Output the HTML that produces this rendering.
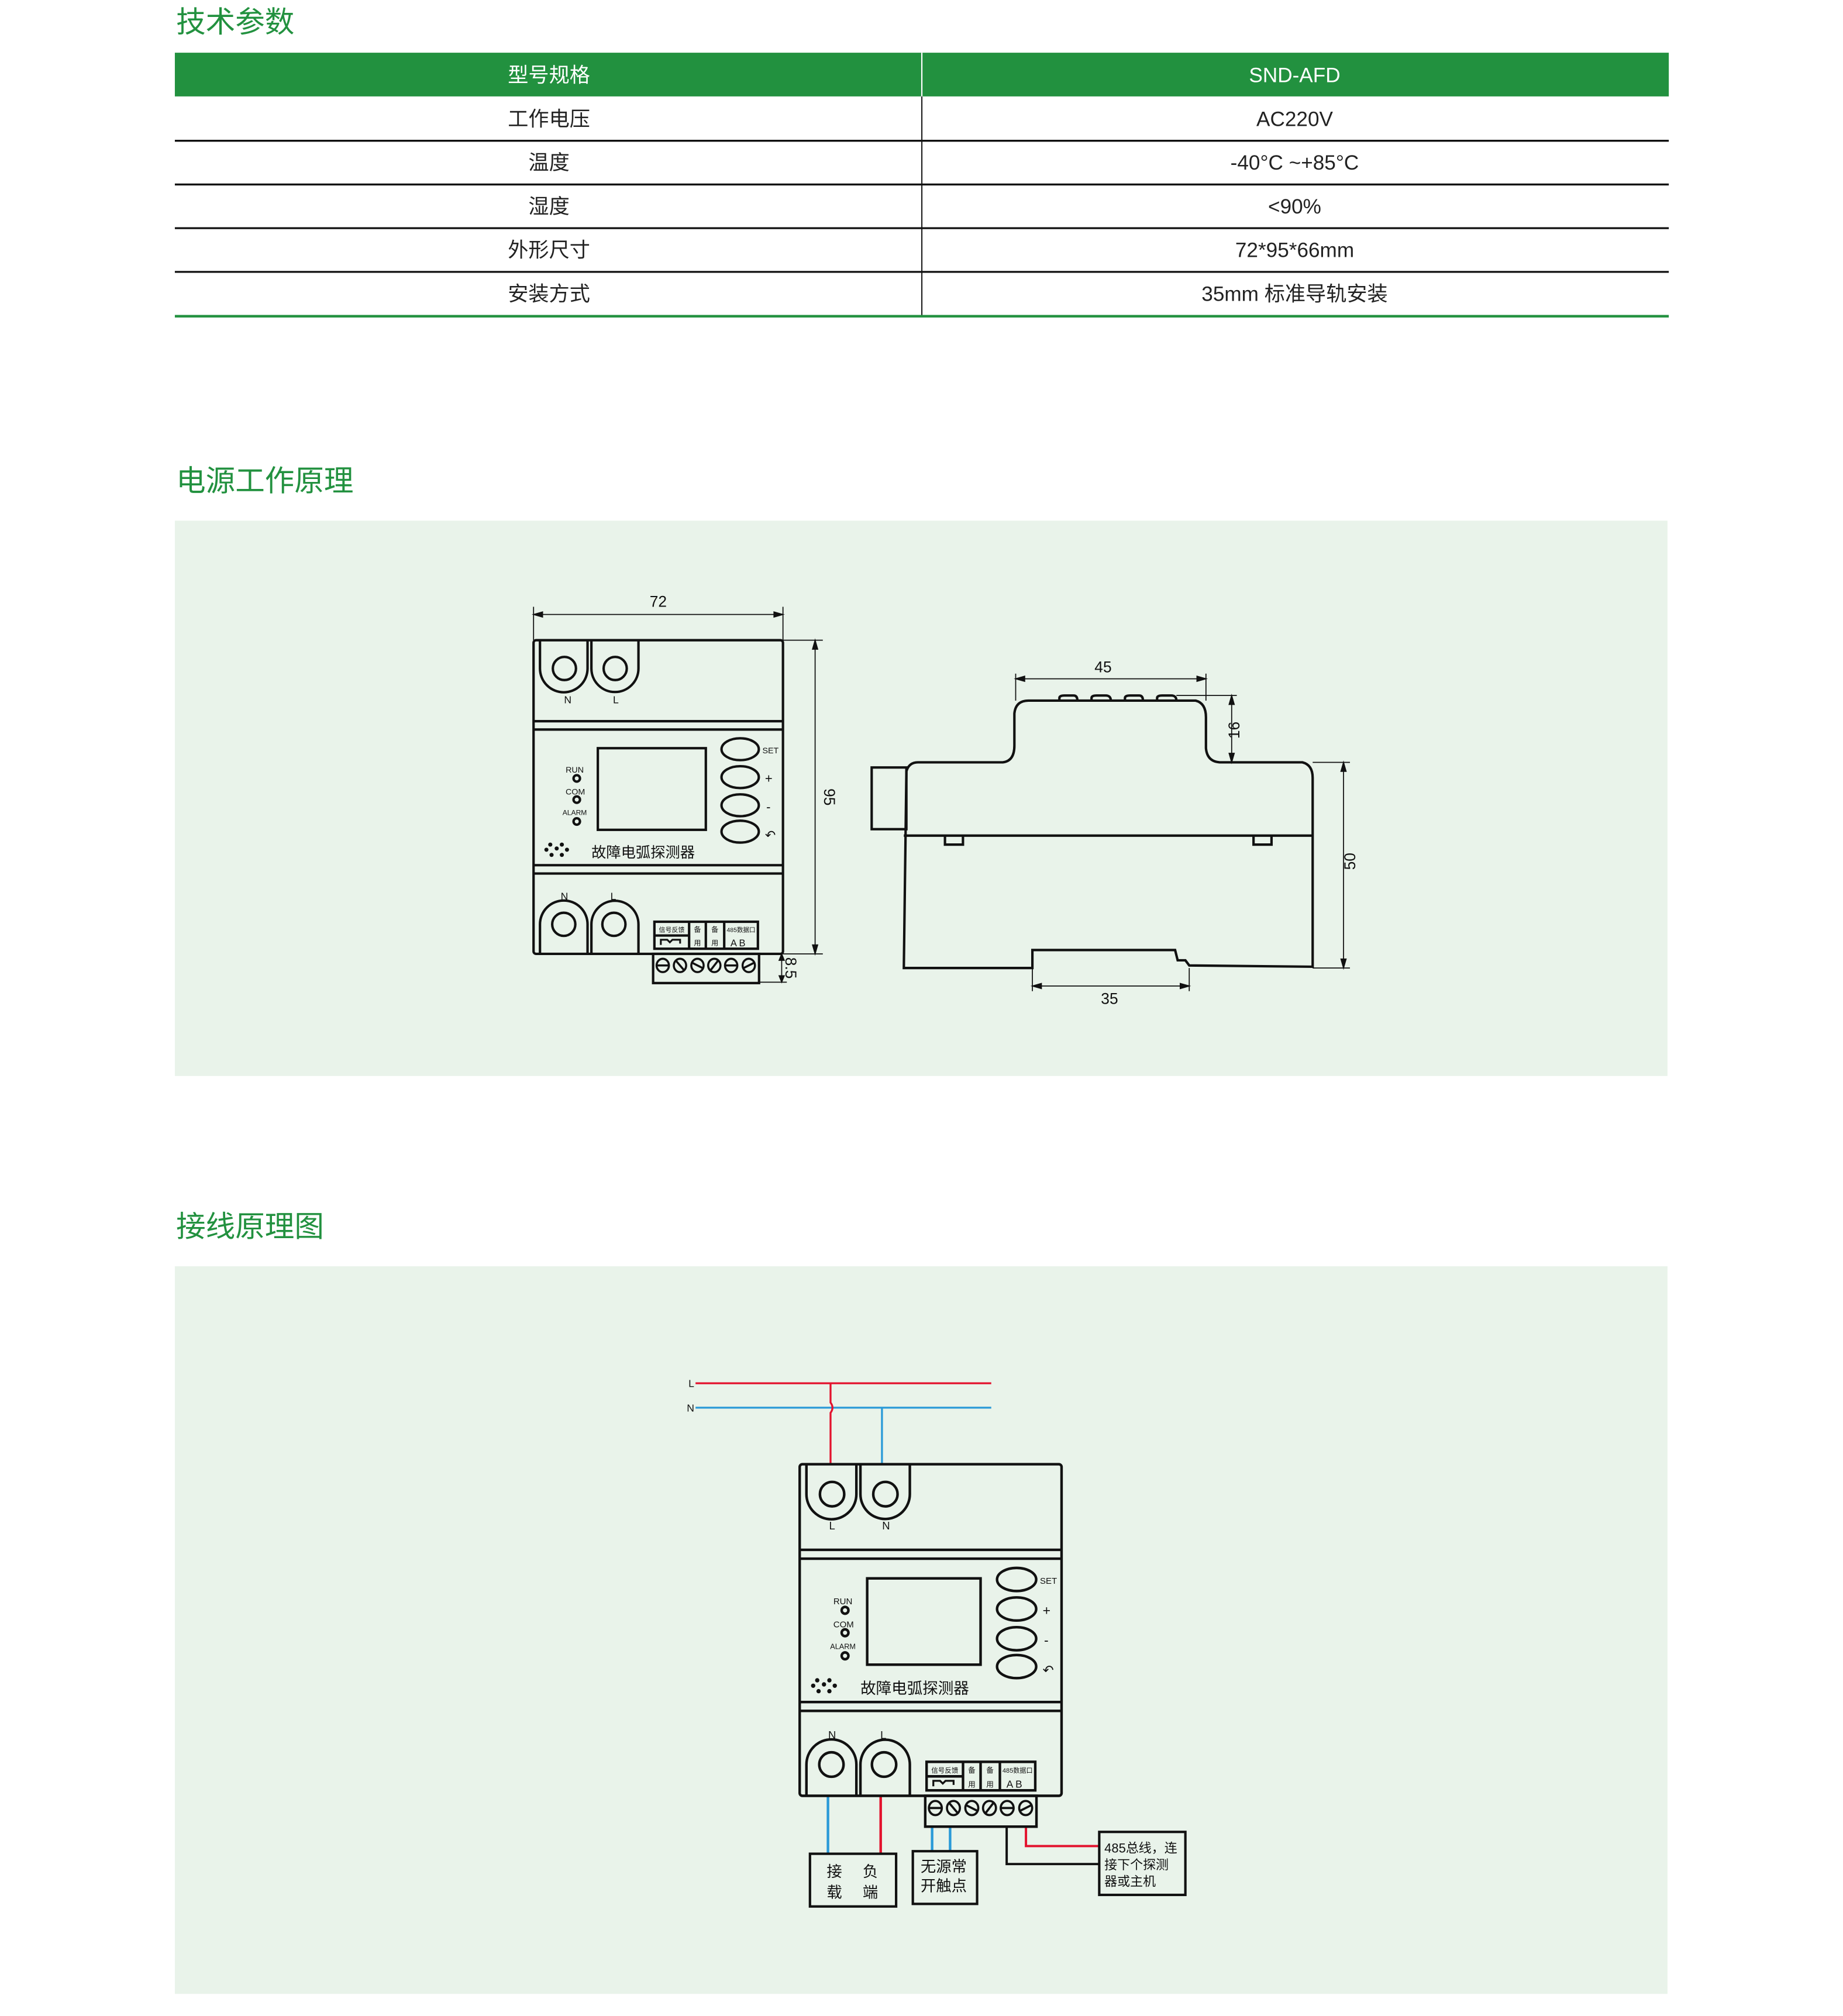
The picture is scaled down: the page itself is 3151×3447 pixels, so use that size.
<!DOCTYPE html>
<html><head><meta charset="utf-8"><style>
html,body{margin:0;padding:0;background:#fff}
svg{display:block}
text{font-family:"Liberation Sans","Noto Sans CJK SC",sans-serif}
</style></head><body>
<svg width="3151" height="3447" viewBox="0 0 1433.5 1568.2" preserveAspectRatio="none" xmlns="http://www.w3.org/2000/svg">
<rect width="1445" height="1581" fill="#fff"/>
<!-- Section 1 -->
<text x="137" y="25" font-size="23" fill="#22913f">技术参数</text>
<rect x="136" y="41" width="1162" height="34" fill="#22913f"/>
<line x1="717" y1="41" x2="717" y2="246" stroke="#fff" stroke-width="1"/>
<line x1="717" y1="75" x2="717" y2="246" stroke="#222" stroke-width="1"/>
<g stroke="#111" stroke-width="1.5">
<line x1="136" y1="109.5" x2="1298" y2="109.5"/>
<line x1="136" y1="143.5" x2="1298" y2="143.5"/>
<line x1="136" y1="177.5" x2="1298" y2="177.5"/>
<line x1="136" y1="211.5" x2="1298" y2="211.5"/>
</g>
<line x1="136" y1="246" x2="1298" y2="246" stroke="#22913f" stroke-width="2"/>
<g font-size="16" text-anchor="middle" fill="#222">
<text x="427" y="64" fill="#fff">型号规格</text><text x="1007" y="64" fill="#fff">SND-AFD</text>
<text x="427" y="98">工作电压</text><text x="1007" y="98">AC220V</text>
<text x="427" y="132">温度</text><text x="1007" y="132">-40°C ~+85°C</text>
<text x="427" y="166">湿度</text><text x="1007" y="166">&lt;90%</text>
<text x="427" y="200">外形尺寸</text><text x="1007" y="200">72*95*66mm</text>
<text x="427" y="234">安装方式</text><text x="1007" y="234">35mm 标准导轨安装</text>
</g>

<!-- Section 2 -->
<text x="137" y="382" font-size="23" fill="#22913f">电源工作原理</text>
<rect x="136" y="405" width="1161" height="432" fill="#e9f3ea"/>

<g transform="translate(415,498)" stroke="#111" fill="none" stroke-width="1.9">
<rect x="0" y="0" width="194" height="244" rx="2"/>
<line x1="0" y1="63" x2="194" y2="63"/><line x1="0" y1="69.5" x2="194" y2="69.5"/>
<line x1="0" y1="175" x2="194" y2="175"/><line x1="0" y1="181.5" x2="194" y2="181.5"/>
<path d="M5,0 V22 A18.5,18.5 0 0 0 42,22 V0"/><path d="M45,0 V22 A18.3,18.3 0 0 0 81.6,22 V0"/>
<circle cx="24" cy="22" r="9"/><circle cx="63.5" cy="22" r="9"/>
<rect x="50" y="84" width="84" height="63.5"/>
<circle cx="33.6" cy="107.5" r="2.5"/><circle cx="33.6" cy="124" r="2.5"/><circle cx="33.6" cy="141" r="2.5"/>
<ellipse cx="160.7" cy="84.8" rx="14.5" ry="8.5"/><ellipse cx="160.7" cy="106.5" rx="14.5" ry="8.5"/>
<ellipse cx="160.7" cy="128.4" rx="14.5" ry="8.5"/><ellipse cx="160.7" cy="148.9" rx="14.5" ry="8.5"/>
<path d="M5,244 V221 A18.5,18.5 0 0 1 42,221 V244"/><path d="M45,244 V221 A18.3,18.3 0 0 1 81.6,221 V244"/>
<circle cx="23.5" cy="221" r="9"/><circle cx="62.5" cy="221" r="9"/>
<rect x="94" y="219" width="80.5" height="21"/>
<line x1="121" y1="219" x2="121" y2="240"/><line x1="134" y1="219" x2="134" y2="240"/><line x1="148.3" y1="219" x2="148.3" y2="240"/>
<line x1="94" y1="229.7" x2="121" y2="229.7"/>
<path d="M99,237 V233 H104 L106,235 L108,233 H114 V236" stroke-width="1.4"/>
<rect x="93" y="244" width="82.4" height="22.7"/>
<g stroke-width="1.6"><ellipse cx="100.5" cy="253" rx="4.8" ry="5.2"/><ellipse cx="113.9" cy="253" rx="4.8" ry="5.2"/><ellipse cx="127.5" cy="253" rx="4.8" ry="5.2"/><ellipse cx="140.6" cy="253" rx="4.8" ry="5.2"/><ellipse cx="153.7" cy="253" rx="4.8" ry="5.2"/><ellipse cx="167.4" cy="253" rx="4.8" ry="5.2"/>
<line x1="96" y1="253" x2="105" y2="253"/><line x1="110.5" y1="249" x2="117.3" y2="257"/><line x1="123.5" y1="251" x2="131.5" y2="255"/><line x1="137.5" y1="257" x2="143.7" y2="249"/><line x1="149.2" y1="253" x2="158.2" y2="253"/><line x1="163.4" y1="255" x2="171.4" y2="251"/></g>
<g fill="#111" stroke="none"><circle cx="13" cy="159" r="1.6"/><circle cx="22" cy="159" r="1.6"/><circle cx="10" cy="163" r="1.6"/><circle cx="18" cy="162" r="1.6"/><circle cx="26" cy="163" r="1.6"/><circle cx="14" cy="167" r="1.6"/><circle cx="22" cy="167" r="1.6"/>
<text x="32" y="103" font-size="6.5" text-anchor="middle">RUN</text><text x="32.5" y="120" font-size="6.5" text-anchor="middle">COM</text><text x="32" y="136" font-size="5.5" text-anchor="middle">ALARM</text>
<text x="178" y="88" font-size="6.5">SET</text><text x="180" y="111" font-size="10">+</text><text x="181" y="133" font-size="10">-</text><text x="180" y="155" font-size="10">↶</text>
<text x="45" y="169" font-size="11.5">故障电弧探测器</text>
<text x="24" y="202" font-size="8" text-anchor="middle">N</text><text x="62" y="202" font-size="8" text-anchor="middle">L</text>
<text x="26.6" y="49" font-size="8" text-anchor="middle">N</text><text x="64" y="49" font-size="8" text-anchor="middle">L</text>
<text x="107.5" y="227" font-size="5" text-anchor="middle">信号反馈</text><text x="127.5" y="227" font-size="5.5" text-anchor="middle">备</text><text x="141" y="227" font-size="5.5" text-anchor="middle">备</text><text x="161.4" y="227" font-size="4.8" text-anchor="middle">485数据口</text>
<text x="127.5" y="237.5" font-size="5.5" text-anchor="middle">用</text><text x="141" y="237.5" font-size="5.5" text-anchor="middle">用</text><text x="159" y="238" font-size="7.5" text-anchor="middle">A B</text>
</g>
</g>
<!-- front dims -->
<g stroke="#111" stroke-width="0.8" fill="#111">
<line x1="415" y1="478" x2="609" y2="478"/><line x1="415" y1="472" x2="415" y2="498"/><line x1="609" y1="472" x2="609" y2="498"/>
<path d="M415,478 l7,-2 v4z M609,478 l-7,-2 v4z"/>
<line x1="634" y1="498" x2="634" y2="742"/><line x1="609" y1="498" x2="640" y2="498"/><line x1="609" y1="742" x2="640" y2="742"/>
<path d="M634,498 l-2,7 h4z M634,742 l-2,-7 h4z"/>
<line x1="608" y1="742" x2="608" y2="764"/><line x1="590" y1="764" x2="612" y2="764"/>
<path d="M608,742 l-2,5 h4z M608,764 l-2,-5 h4z"/>
</g>
<g font-size="12" fill="#111" text-anchor="middle">
<text x="512" y="472">72</text>
<text transform="translate(641,620) rotate(90)">95</text>
<text transform="translate(611,753) rotate(90)">8.5</text>
<text x="858" y="523">45</text>
<text transform="translate(964,568) rotate(-90)">16</text>
<text transform="translate(1054,670) rotate(-90)">50</text>
<text x="863" y="781">35</text>
</g>
<!-- side view -->
<g stroke="#111" stroke-width="1.9" fill="none">
<rect x="678" y="597" width="27" height="48"/>
<path d="M703,753 L705,600 Q707,593 714,593 L780,593 Q789,592 789,580 L789,555 Q790,545 800,545 L930,545 Q938,547 938,558 L938,582 Q939,593 950,593 L1013,593 Q1021,595 1021,605 L1021,752 L925,751 L922,747 L916,747 L914,739 L803,739 L803,753 Z"/>
<line x1="703" y1="650" x2="1021" y2="650"/>
<path d="M735,650 V657 H749 V650 M975,650 V657 H989 V650"/>
<path d="M824,545 V543 Q824,541 828,541 H835 Q838,541 838,545 M849,545 V543 Q849,541 853,541 H860 Q864,541 864,545 M875,545 V543 Q875,541 879,541 H886 Q889,541 889,545 M900,545 V543 Q900,541 904,541 H911 Q915,541 915,545"/>
</g>
<g stroke="#111" stroke-width="0.8" fill="#111">
<line x1="790" y1="528" x2="938" y2="528"/><line x1="790" y1="524" x2="790" y2="545"/><line x1="938" y1="524" x2="938" y2="545"/>
<path d="M790,528 l7,-2 v4z M938,528 l-7,-2 v4z"/>
<line x1="958" y1="541" x2="958" y2="593"/><line x1="915" y1="541" x2="962" y2="541"/>
<path d="M958,541 l-2,7 h4z M958,593 l-2,-7 h4z"/>
<line x1="1045" y1="593" x2="1045" y2="753"/><line x1="1021" y1="593" x2="1050" y2="593"/><line x1="1021" y1="753" x2="1050" y2="753"/>
<path d="M1045,593 l-2,7 h4z M1045,753 l-2,-7 h4z"/>
<line x1="803" y1="767" x2="925" y2="767"/><line x1="803" y1="753" x2="803" y2="771"/><line x1="925" y1="753" x2="925" y2="771"/>
<path d="M803,767 l7,-2 v4z M925,767 l-7,-2 v4z"/>
</g>

<!-- Section 3 -->
<text x="137" y="962" font-size="23" fill="#22913f">接线原理图</text>
<rect x="136" y="985" width="1161" height="566" fill="#e9f3ea"/>

<g stroke-width="1.5" fill="none">
<line x1="541" y1="1076" x2="771" y2="1076" stroke="#e3122d"/>
<line x1="541" y1="1095" x2="771" y2="1095" stroke="#2a9ad8"/>
<path d="M646,1076 V1091 Q649,1095 646,1099 V1139" stroke="#e3122d"/>
<line x1="686" y1="1095" x2="686" y2="1139" stroke="#2a9ad8"/>
<line x1="644" y1="1397" x2="644" y2="1442" stroke="#2a9ad8" stroke-width="2"/>
<line x1="685" y1="1397" x2="685" y2="1442" stroke="#e3122d" stroke-width="2"/>
<line x1="725" y1="1421" x2="725" y2="1440" stroke="#2a9ad8" stroke-width="2"/>
<line x1="739" y1="1421" x2="739" y2="1440" stroke="#2a9ad8" stroke-width="2"/>
<path d="M783,1421 V1450 H855" stroke="#111" stroke-width="1.8"/>
<path d="M798,1421 V1436 H855" stroke="#e3122d" stroke-width="1.8"/>
</g>
<text x="540" y="1079" font-size="8" text-anchor="end" fill="#111">L</text>
<text x="540" y="1098" font-size="8" text-anchor="end" fill="#111">N</text>

<g transform="translate(622,1139) scale(1.05,1.057)" stroke="#111" fill="none" stroke-width="1.9">
<rect x="0" y="0" width="194" height="244" rx="2"/>
<line x1="0" y1="63" x2="194" y2="63"/><line x1="0" y1="69.5" x2="194" y2="69.5"/>
<line x1="0" y1="175" x2="194" y2="175"/><line x1="0" y1="181.5" x2="194" y2="181.5"/>
<path d="M5,0 V22 A18.5,18.5 0 0 0 42,22 V0"/><path d="M45,0 V22 A18.3,18.3 0 0 0 81.6,22 V0"/>
<circle cx="24" cy="22" r="9"/><circle cx="63.5" cy="22" r="9"/>
<rect x="50" y="84" width="84" height="63.5"/>
<circle cx="33.6" cy="107.5" r="2.5"/><circle cx="33.6" cy="124" r="2.5"/><circle cx="33.6" cy="141" r="2.5"/>
<ellipse cx="160.7" cy="84.8" rx="14.5" ry="8.5"/><ellipse cx="160.7" cy="106.5" rx="14.5" ry="8.5"/>
<ellipse cx="160.7" cy="128.4" rx="14.5" ry="8.5"/><ellipse cx="160.7" cy="148.9" rx="14.5" ry="8.5"/>
<path d="M5,244 V221 A18.5,18.5 0 0 1 42,221 V244"/><path d="M45,244 V221 A18.3,18.3 0 0 1 81.6,221 V244"/>
<circle cx="23.5" cy="221" r="9"/><circle cx="62.5" cy="221" r="9"/>
<rect x="94" y="219" width="80.5" height="21"/>
<line x1="121" y1="219" x2="121" y2="240"/><line x1="134" y1="219" x2="134" y2="240"/><line x1="148.3" y1="219" x2="148.3" y2="240"/>
<line x1="94" y1="229.7" x2="121" y2="229.7"/>
<path d="M99,237 V233 H104 L106,235 L108,233 H114 V236" stroke-width="1.4"/>
<rect x="93" y="244" width="82.4" height="22.7"/>
<g stroke-width="1.6"><ellipse cx="100.5" cy="253" rx="4.8" ry="5.2"/><ellipse cx="113.9" cy="253" rx="4.8" ry="5.2"/><ellipse cx="127.5" cy="253" rx="4.8" ry="5.2"/><ellipse cx="140.6" cy="253" rx="4.8" ry="5.2"/><ellipse cx="153.7" cy="253" rx="4.8" ry="5.2"/><ellipse cx="167.4" cy="253" rx="4.8" ry="5.2"/>
<line x1="96" y1="253" x2="105" y2="253"/><line x1="110.5" y1="249" x2="117.3" y2="257"/><line x1="123.5" y1="251" x2="131.5" y2="255"/><line x1="137.5" y1="257" x2="143.7" y2="249"/><line x1="149.2" y1="253" x2="158.2" y2="253"/><line x1="163.4" y1="255" x2="171.4" y2="251"/></g>
<g fill="#111" stroke="none"><circle cx="13" cy="159" r="1.6"/><circle cx="22" cy="159" r="1.6"/><circle cx="10" cy="163" r="1.6"/><circle cx="18" cy="162" r="1.6"/><circle cx="26" cy="163" r="1.6"/><circle cx="14" cy="167" r="1.6"/><circle cx="22" cy="167" r="1.6"/>
<text x="32" y="103" font-size="6.5" text-anchor="middle">RUN</text><text x="32.5" y="120" font-size="6.5" text-anchor="middle">COM</text><text x="32" y="136" font-size="5.5" text-anchor="middle">ALARM</text>
<text x="178" y="88" font-size="6.5">SET</text><text x="180" y="111" font-size="10">+</text><text x="181" y="133" font-size="10">-</text><text x="180" y="155" font-size="10">↶</text>
<text x="45" y="169" font-size="11.5">故障电弧探测器</text>
<text x="24" y="202" font-size="8" text-anchor="middle">N</text><text x="62" y="202" font-size="8" text-anchor="middle">L</text>
<text x="24" y="48" font-size="8" text-anchor="middle">L</text><text x="64" y="48" font-size="8" text-anchor="middle">N</text>
<text x="107.5" y="227" font-size="5" text-anchor="middle">信号反馈</text><text x="127.5" y="227" font-size="5.5" text-anchor="middle">备</text><text x="141" y="227" font-size="5.5" text-anchor="middle">备</text><text x="161.4" y="227" font-size="4.8" text-anchor="middle">485数据口</text>
<text x="127.5" y="237.5" font-size="5.5" text-anchor="middle">用</text><text x="141" y="237.5" font-size="5.5" text-anchor="middle">用</text><text x="159" y="238" font-size="7.5" text-anchor="middle">A B</text>
</g>
</g>

<g stroke="#111" stroke-width="1.9" fill="none">
<rect x="630" y="1442" width="67" height="41"/>
<rect x="710" y="1440" width="50" height="41"/>
<rect x="855" y="1425" width="67" height="49"/>
</g>
<g fill="#111" font-size="12">
<text x="643" y="1460">接</text><text x="671" y="1460">负</text>
<text x="643" y="1476">载</text><text x="671" y="1476">端</text>
<text x="716" y="1456">无源常</text><text x="716" y="1471">开触点</text>
<text x="859" y="1441" font-size="10">485总线，连</text>
<text x="859" y="1454" font-size="10">接下个探测</text>
<text x="859" y="1467" font-size="10">器或主机</text>
</g>
</svg>
</body></html>
